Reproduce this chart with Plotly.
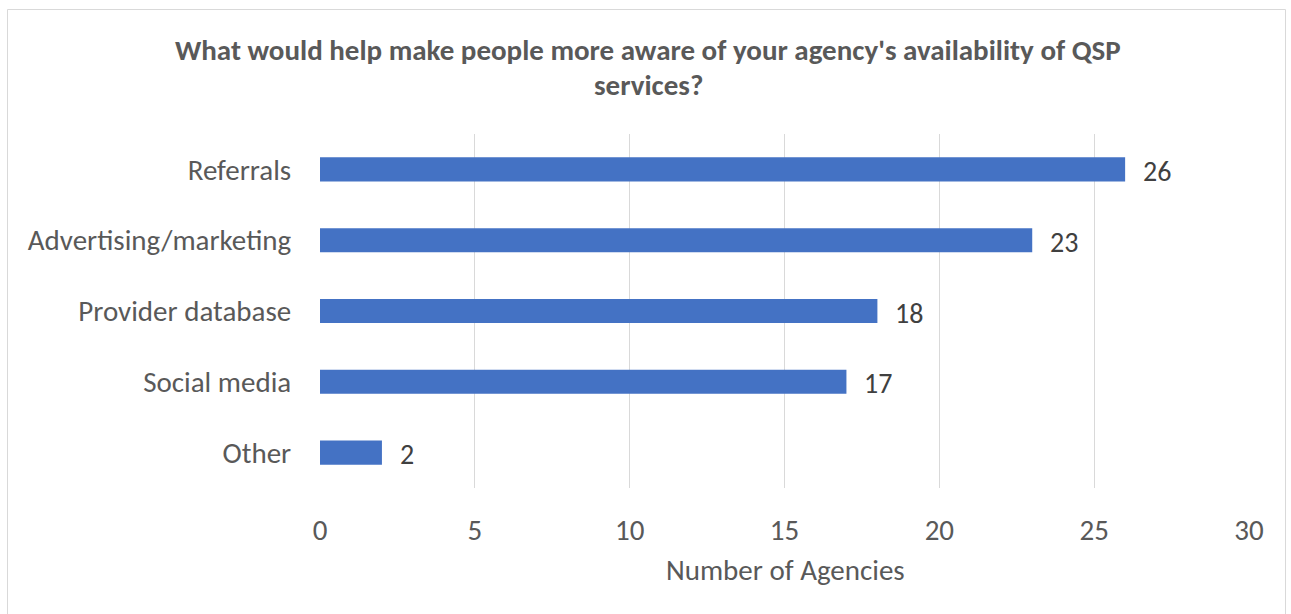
import plotly.graph_objects as go

categories = ["Referrals", "Advertising/marketing", "Provider database", "Social media", "Other"]
values = [26, 23, 18, 17, 2]
x_ticks = [0, 5, 10, 15, 20, 25, 30]

FONT = "Carlito, Calibri, Lato, sans-serif"
GRAY = "#595959"
FS = 29

fig = go.Figure()
fig.add_trace(go.Bar(
    y=categories, x=values, orientation="h",
    marker=dict(color="#4472C4", line=dict(width=0)),
    width=0.34,
    hoverinfo="skip",
))

for c, v in zip(categories, values):
    fig.add_annotation(x=v, y=c, text=str(v), showarrow=False,
                       xanchor="left", xshift=16, yshift=-2,
                       font=dict(family=FONT, size=28, color="#404040"))

fig.add_annotation(xref="paper", yref="paper", x=(648-320)/929, y=(488-50)/354,
                   text="<b>What would help make people more aware of your agency's availability of QSP</b>",
                   showarrow=False, xanchor="center", yanchor="middle",
                   font=dict(family=FONT, size=FS, color=GRAY))
fig.add_annotation(xref="paper", yref="paper", x=(648-320)/929, y=(488-85)/354,
                   text="<b>services?</b>",
                   showarrow=False, xanchor="center", yanchor="middle",
                   font=dict(family=FONT, size=FS, color=GRAY))
fig.add_annotation(xref="paper", yref="paper", x=(785-320)/929, y=(488-570)/354,
                   text="Number of Agencies",
                   showarrow=False, xanchor="center", yanchor="middle",
                   font=dict(family=FONT, size=FS, color=GRAY))

fig.add_shape(type="rect", xref="paper", yref="paper",
              x0=(7.5-320)/929, x1=(1285.5-320)/929,
              y0=(488-640)/354, y1=(488-9.5)/354,
              line=dict(color="#D9D9D9", width=1), fillcolor="rgba(0,0,0,0)", layer="below")

fig.update_layout(
    width=1291, height=614,
    margin=dict(l=320, r=42, t=134, b=126),
    paper_bgcolor="white", plot_bgcolor="white",
    showlegend=False,
    font=dict(family=FONT, size=FS, color=GRAY),
    xaxis=dict(range=[0, 30], tickvals=x_ticks, showgrid=True, gridcolor="#D9D9D9",
               gridwidth=1, zeroline=False, showline=False,
               ticks="outside", ticklen=16, tickcolor="rgba(0,0,0,0)",
               tickfont=dict(family=FONT, size=FS, color=GRAY), fixedrange=True),
    yaxis=dict(autorange="reversed", showgrid=False, zeroline=False, showline=False,
               ticks="outside", ticklen=22, tickcolor="rgba(0,0,0,0)",
               tickfont=dict(family=FONT, size=FS, color=GRAY), fixedrange=True),
)

fig.write_html("out.html", config={"displayModeBar": False},
               post_script="document.body.style.margin='0';document.body.style.overflow='hidden';")
